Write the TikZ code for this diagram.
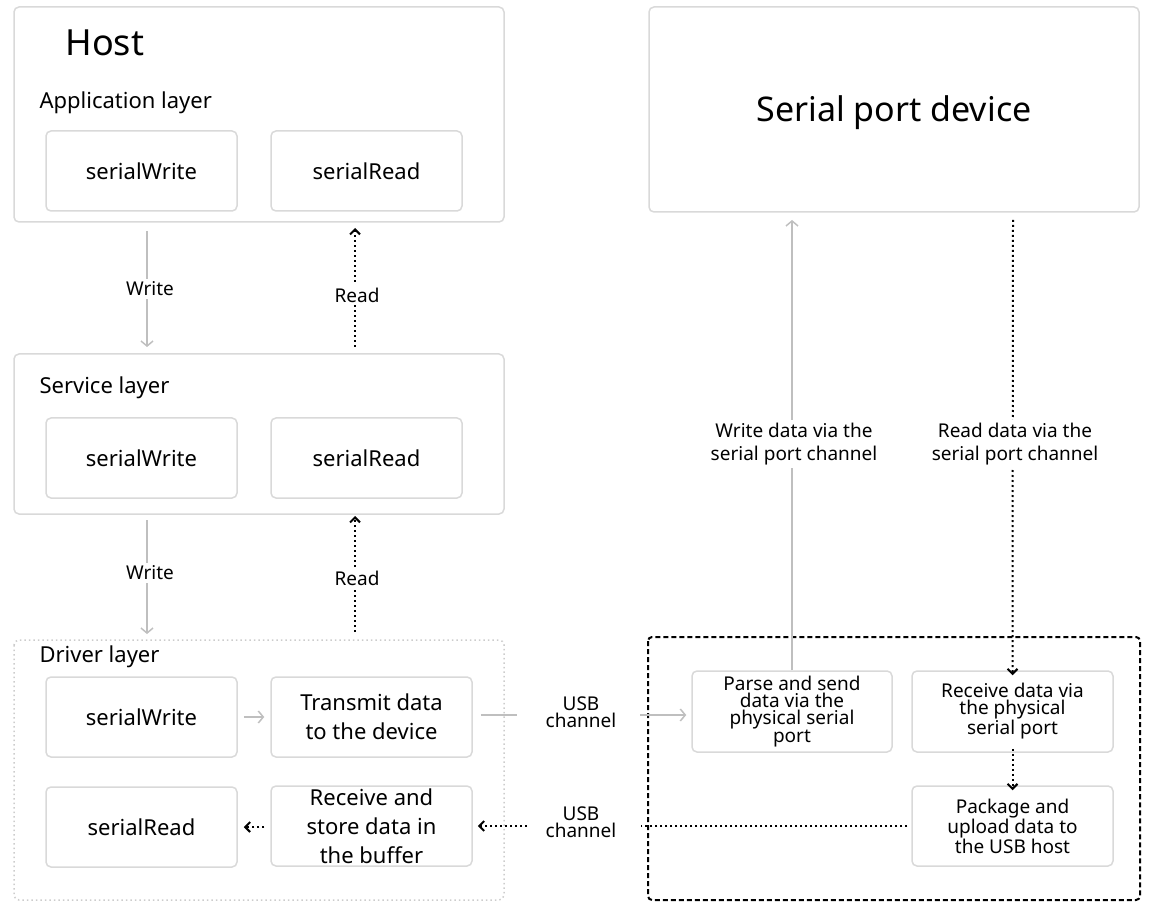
\documentclass[tikz,border=0pt]{standalone}
\usepackage{fontspec}
\setmainfont{Noto Sans}
\usetikzlibrary{arrows.meta}
\begin{document}
\begin{tikzpicture}[x=1pt,y=-1pt,
  frame/.style={draw=black!15,line width=1.5pt,rounded corners=5pt},
  box/.style={draw=black!15,line width=1.5pt,rounded corners=5pt,align=center,font=\fontsize{22}{29}\selectfont},
  sbox/.style={draw=black!15,line width=1.5pt,rounded corners=5pt,align=center,font=\fontsize{19}{17}\selectfont},
  lbl/.style={fill=white,font=\fontsize{19}{19}\selectfont,align=center,inner sep=3pt},
  wr/.style={draw=black!25,line width=1.5pt,-{Straight Barb[length=5pt,width=12pt]}},
  rd/.style={draw=black,line width=2pt,dash pattern=on 2pt off 3pt,-{Straight Barb[length=5pt,width=10pt]}}]
\useasboundingbox (0,0) rectangle (1152,917);
% host
\draw[frame] (14,7) rectangle (504,222);
\node[anchor=west,font=\fontsize{36}{38}\selectfont] (host) at (62,43) {Host};
\node[anchor=west,font=\fontsize{22}{24}\selectfont] (al) at (36,103) {Application layer};
\node[box,minimum width=191pt,minimum height=80pt] (aw) at (141.5,171) {serialWrite};
\node[box,minimum width=191pt,minimum height=80pt] (ar) at (366.5,171) {serialRead};
% service
\draw[frame] (14,354) rectangle (504,514);
\node[anchor=west,font=\fontsize{22}{24}\selectfont] (sl) at (36,388) {Service layer};
\node[box,minimum width=191pt,minimum height=80pt] (sw) at (141.5,458) {serialWrite};
\node[box,minimum width=191pt,minimum height=80pt] (sr) at (366.5,458) {serialRead};
% driver
\draw[draw=black!20,line width=1.5pt,dash pattern=on 1.5pt off 3pt,rounded corners=5pt] (14,640) rectangle (504,900);
\node[anchor=west,font=\fontsize{22}{24}\selectfont] (dl) at (36,657) {Driver layer};
\node[box,minimum width=191pt,minimum height=80pt] (dw) at (141.5,717) {serialWrite};
\node[box,minimum width=201pt,minimum height=80pt,inner sep=0pt] (dt) at (371.5,717) {Transmit data\\to the device};
\node[box,minimum width=191pt,minimum height=80pt] (dr) at (141.5,827) {serialRead};
\node[box,minimum width=201pt,minimum height=80pt,inner sep=0pt] (db) at (371.5,826) {Receive and\\store data in\\the buffer};
% device
\draw[frame] (649,7) rectangle (1139,212);
\node[font=\fontsize{34}{36}\selectfont] (dev) at (894,113) {Serial port device};
\draw[draw=black,line width=2pt,dash pattern=on 5pt off 3pt,rounded corners=4pt] (648,637) rectangle (1140,900);
\node[sbox,minimum width=200pt,minimum height=81pt,inner sep=0pt] (pa) at (792,711.5) {Parse and send\\data via the\\physical serial\\port};
\node[sbox,minimum width=201pt,minimum height=81pt,inner sep=0pt] (rv) at (1012.5,711.5) {Receive data via\\the physical\\serial port};
\node[sbox,minimum width=201pt,minimum height=80pt,inner sep=0pt] (pk) at (1012.5,826) {Package and\\upload data to\\the USB host};
% vertical arrows
\coordinate (w1a) at (147,231); \coordinate (w1b) at (147,347);
\draw[wr] (w1a) -- (w1b);
\node[lbl] (lw1) at (150,289) {Write};
\coordinate (r1a) at (355,347); \coordinate (r1b) at (355,228);
\draw[rd] (r1a) -- (r1b);
\node[lbl] (lr1) at (357,295) {Read};
\coordinate (w2a) at (147,520); \coordinate (w2b) at (147,634);
\draw[wr] (w2a) -- (w2b);
\node[lbl] (lw2) at (150,573) {Write};
\coordinate (r2a) at (355,632); \coordinate (r2b) at (355,516);
\draw[rd] (r2a) -- (r2b);
\node[lbl] (lr2) at (357,578) {Read};
% driver internal
\draw[wr] ([xshift=6pt]dw.east) -- ([xshift=-6pt]dt.west);
\draw[rd] ([xshift=-6pt]db.west |- dr) -- ([xshift=6pt]dr.east);
% usb channels
\coordinate (c1) at (517,715); \coordinate (c2) at (640,715);
\coordinate (c3) at (641,826); \coordinate (c4) at (527,826);
\draw[draw=black!25,line width=1.5pt] ([xshift=8pt]dt.east |- c1) -- (c1);
\draw[wr] (c2) -- ([xshift=-5pt]pa.west |- c2);
\draw[draw=black,line width=2pt,dash pattern=on 2pt off 3pt] ([xshift=-4pt]pk.west) -- (c3);
\draw[rd] (c4) -- ([xshift=5pt]db.east |- c4);
\node[font=\fontsize{19}{17}\selectfont,align=center] (u1) at (581,712) {USB\\channel};
\node[font=\fontsize{19}{17}\selectfont,align=center] (u2) at (581,822) {USB\\channel};
% device arrows
\draw[wr] (pa.north) -- (792,220);
\node[lbl,font=\fontsize{19}{23}\selectfont] (lw) at (794,444) {Write data via the\\serial port channel};
\coordinate (rt) at (1013,220);
\draw[rd] (rt) -- ([yshift=-5pt]rv.north);
\node[lbl,font=\fontsize{19}{23}\selectfont] (lr) at (1015,444) {Read data via the\\serial port channel};
\draw[rd] ([yshift=4pt]rv.south) -- ([yshift=-5pt]pk.north);
\end{tikzpicture}
\end{document}
